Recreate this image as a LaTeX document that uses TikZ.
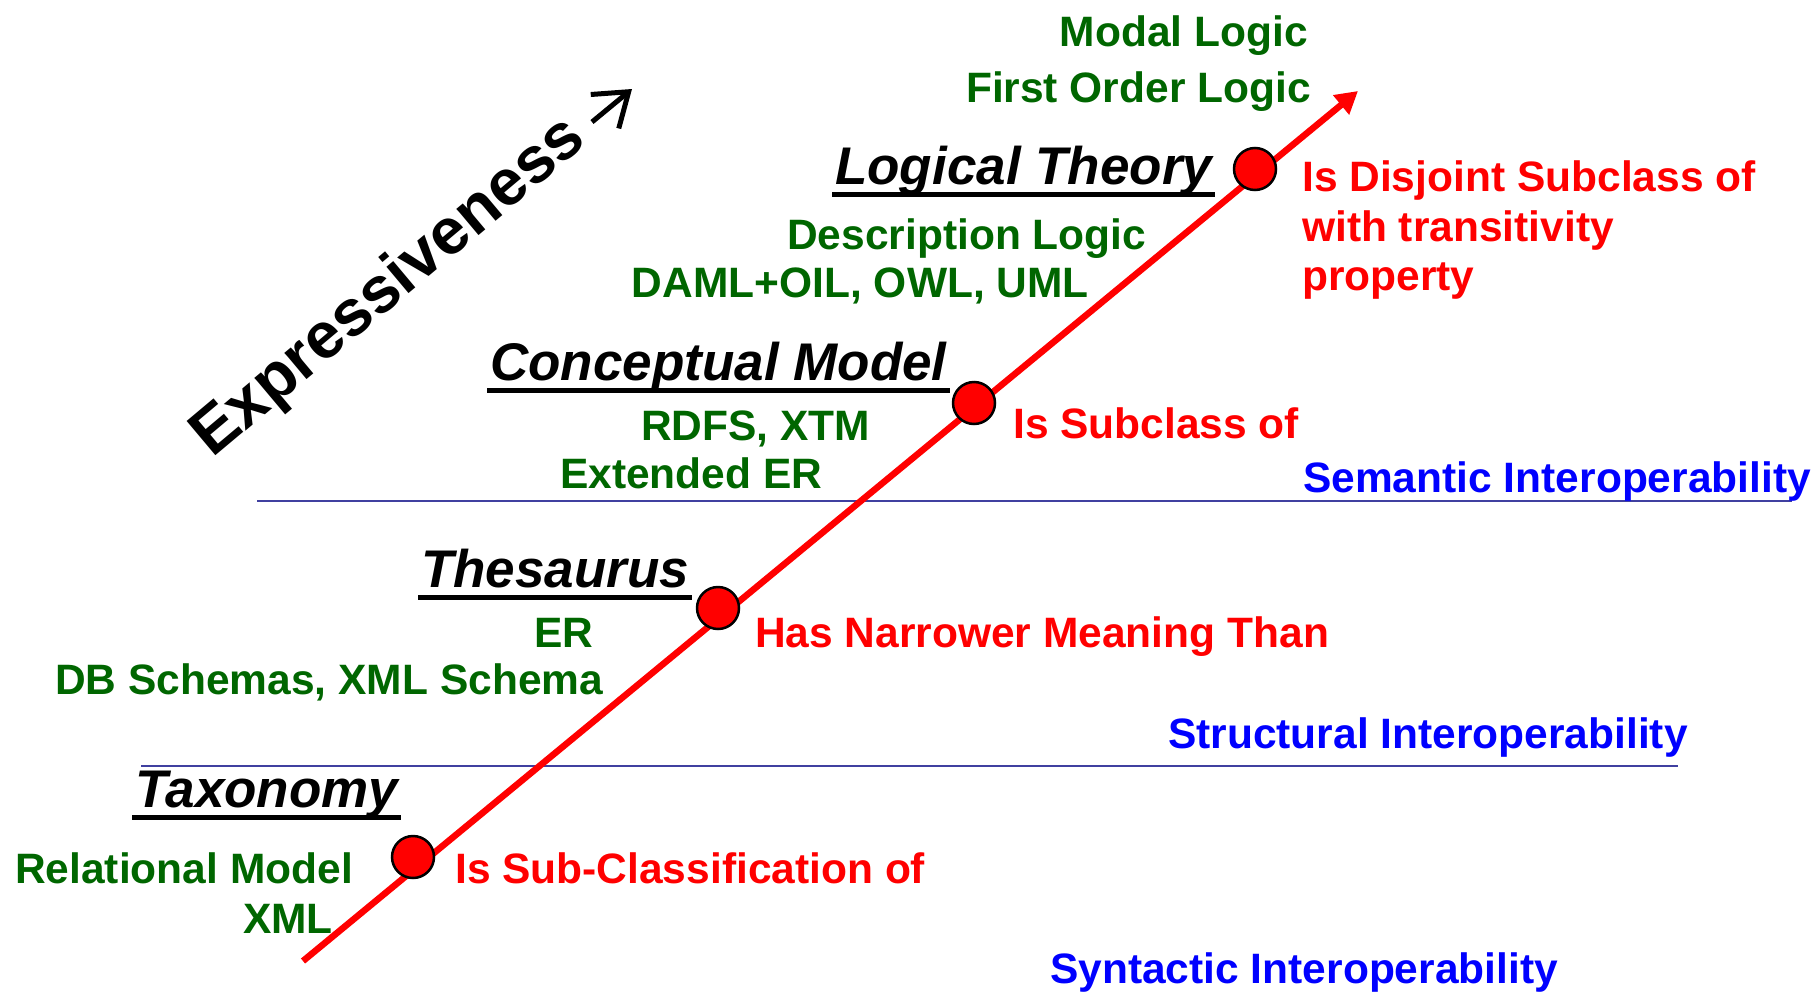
\documentclass[tikz,border=0pt]{standalone}
\usepackage{fontspec}
\setmainfont{Liberation Sans}
\usetikzlibrary{arrows.meta}
\definecolor{dkgreen}{RGB}{0,102,0}
\definecolor{sepblue}{RGB}{64,64,160}
\begin{document}
\begin{tikzpicture}[x=1pt, y=-1pt, line join=miter]
	\tikzset{
		lbl/.style={font=\fontsize{42.5}{50}\selectfont\bfseries, inner sep=0pt},
		lang/.style={lbl, text=dkgreen},
		rel/.style={lbl, text=red},
		lvl/.style={lbl, text=blue},
		title/.style={font=\fontsize{53}{60}\selectfont\bfseries\itshape, inner xsep=3pt, inner ysep=0pt, anchor=base west},
		uline/.style={line width=5, line cap=butt},
		sep/.style={draw=sepblue, line width=2.5},
		axis/.style={draw=red, line width=6.5, line cap=butt, -{Triangle[length=22, width=24]}},
		dot/.style={circle, fill=red, draw=black, line width=2.5, minimum size=42, inner sep=0pt}
	}
	\useasboundingbox (0,0) rectangle (1814,993);
	%Đường phân tầng
	\draw[sep] (257,501) -- (1792,501);
	\draw[sep] (141,766) -- (1678,766);
	%Trục biểu diễn
	\coordinate (lo) at (303,961);
	\coordinate (hi) at (1358,91);
	\draw[axis] (lo) -- (hi);
	\path
	(413,857) node[dot] (dtax) {}
	(718,608) node[dot] (dthe) {}
	(974,403) node[dot] (dcon) {}
	(1255,169) node[dot] (dlog) {}
	;
	%Tên các mức
	\path
	(132,807) node[title] (ttax) {Taxonomy}
	(418,587) node[title] (tthe) {Thesaurus}
	(487,380) node[title] (tcon) {Conceptual Model}
	(832,184) node[title] (tlog) {Logical Theory}
	;
	\foreach \t in {ttax,tthe,tcon,tlog}
	\draw[uline] ([yshift=-10pt]\t.base west) -- ([yshift=-10pt]\t.base east);
	%Ngôn ngữ
	\path
	(1308,46) node[lang, anchor=base east] (modal) {Modal Logic}
	(1311,102) node[lang, anchor=base east] (fol) {First Order Logic}
	(787,249) node[lang, anchor=base west] (dl) {Description Logic}
	(1089,297) node[lang, anchor=base east] (owl) {DAML+OIL, OWL, UML}
	(641,440) node[lang, anchor=base west] (rdfs) {RDFS, XTM}
	(560,488) node[lang, anchor=base west] (eer) {Extended ER}
	(534,647) node[lang, anchor=base west] (er) {ER}
	(55,694) node[lang, anchor=base west] (dbs) {DB Schemas, XML Schema}
	(15,883) node[lang, anchor=base west] (rel) {Relational Model}
	(333,933) node[lang, anchor=base east] (xml) {XML}
	;
	%Quan hệ
	\path
	(1302,191) node[rel, anchor=base west] (rlog1) {Is Disjoint Subclass of}
	(1302,241) node[rel, anchor=base west] (rlog2) {with transitivity}
	(1302,290) node[rel, anchor=base west] (rlog3) {property}
	(1013,438) node[rel, anchor=base west] (rcon) {Is Subclass of}
	(755,647) node[rel, anchor=base west] (rthe) {Has Narrower Meaning Than}
	(455,883) node[rel, anchor=base west] (rtax) {Is Sub-Classification of}
	;
	%Khả năng liên tác
	\path
	(1303,492) node[lvl, anchor=base west] (sem) {Semantic Interoperability}
	(1168,748) node[lvl, anchor=base west] (str) {Structural Interoperability}
	(1050,983) node[lvl, anchor=base west] (syn) {Syntactic Interoperability}
	;
	%Nhãn trục
	\node[font=\fontsize{65}{72}\selectfont\bfseries, inner sep=0pt, anchor=base west, rotate=40] (expr) at (212,459) {Expressiveness};
	\draw[line width=5, line cap=butt, -{Straight Barb[length=31, width=44]}] (592,122) -- (632,89);
\end{tikzpicture}
\end{document}
